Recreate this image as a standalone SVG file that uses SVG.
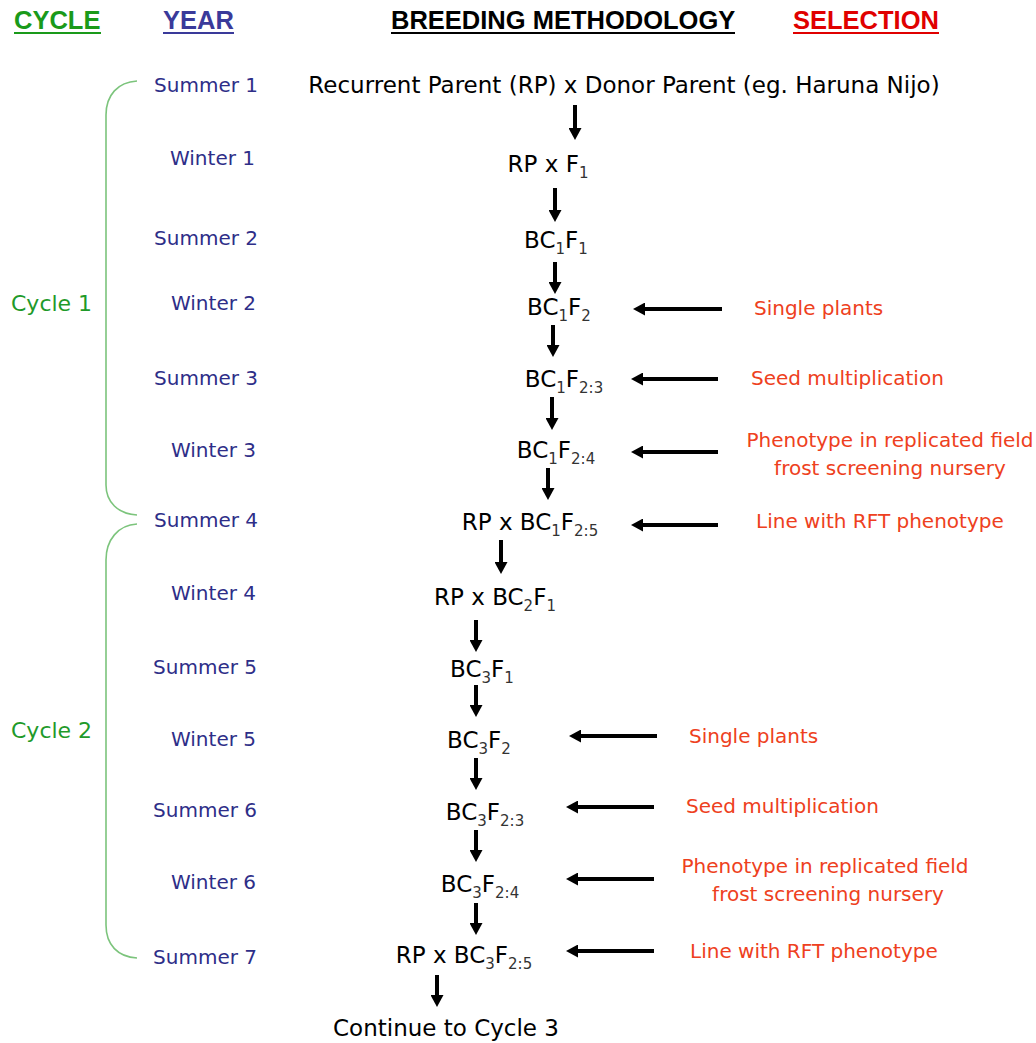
<svg xmlns="http://www.w3.org/2000/svg" width="1036" height="1043" viewBox="0 0 1036 1043">
<style>
.hdr{font-family:"Liberation Sans",Arial,sans-serif;font-weight:bold;font-size:25.5px}
.yr{font-family:"DejaVu Sans","Noto Sans",sans-serif;font-size:20px;fill:#2e2e88;text-anchor:end}
.cyc{font-family:"DejaVu Sans","Noto Sans",sans-serif;font-size:22px;fill:#1f9a2a}
.m{font-family:"DejaVu Sans","Noto Sans",sans-serif;font-size:23px;fill:#000;text-anchor:middle}
.sub{font-size:15px;fill:#333}
.sel{font-family:"DejaVu Sans","Noto Sans",sans-serif;font-size:20px;fill:#ee4020}
.brace{fill:none;stroke:#7cc47c;stroke-width:1.6}
.ar{stroke:#000;stroke-width:4;fill:none;marker-end:url(#ah)}
</style>
<defs>
<marker id="ah" markerUnits="userSpaceOnUse" viewBox="0 0 12 13" markerWidth="12" markerHeight="13" refX="2" refY="6.5" orient="auto">
<path d="M0,0 L12,6.5 L0,13 z" fill="#000"/>
</marker>
</defs>
<rect width="1036" height="1043" fill="#fff"/>
<g id="headers">
<text class="hdr" x="14" y="29" fill="#1a9a1a">CYCLE</text>
<rect x="14" y="32" width="87" height="2" fill="#1a9a1a"/>
<text class="hdr" x="163" y="29" fill="#3a3a9a">YEAR</text>
<rect x="163" y="32" width="71" height="2" fill="#3a3a9a"/>
<text class="hdr" x="391" y="29" fill="#000">BREEDING METHODOLOGY</text>
<rect x="391" y="32" width="344" height="2" fill="#000"/>
<text class="hdr" x="793" y="29" fill="#e00000">SELECTION</text>
<rect x="793" y="32" width="146" height="2" fill="#e00000"/>
</g>
<g id="cycles">
<path class="brace" d="M137,81 C118,82 106,95 106,115 L106,485 C106,502 118,514 137,515"/>
<text class="cyc" x="11" y="311">Cycle 1</text>
<path class="brace" d="M137,524 C118,525 106,540 106,560 L106,925 C106,945 118,957 137,958"/>
<text class="cyc" x="11" y="738">Cycle 2</text>
</g>
<g id="years">
<text class="yr" x="258" y="92">Summer 1</text>
<text class="yr" x="255" y="165">Winter 1</text>
<text class="yr" x="258" y="245">Summer 2</text>
<text class="yr" x="256" y="310">Winter 2</text>
<text class="yr" x="258" y="385">Summer 3</text>
<text class="yr" x="256" y="457">Winter 3</text>
<text class="yr" x="258" y="527">Summer 4</text>
<text class="yr" x="256" y="600">Winter 4</text>
<text class="yr" x="257" y="674">Summer 5</text>
<text class="yr" x="256" y="746">Winter 5</text>
<text class="yr" x="257" y="817">Summer 6</text>
<text class="yr" x="256" y="889">Winter 6</text>
<text class="yr" x="257" y="964">Summer 7</text>
</g>
<g id="n0"><text class="m" x="624" y="93">Recurrent Parent (RP) x Donor Parent (eg. Haruna Nijo)</text></g>
<g id="n1"><text class="m" x="548" y="172">RP x F<tspan class="sub" dy="6">1</tspan></text></g>
<g id="n2"><text class="m" x="556" y="248">BC<tspan class="sub" dy="6">1</tspan><tspan dy="-6">F</tspan><tspan class="sub" dy="6">1</tspan></text></g>
<g id="n3"><text class="m" x="559" y="315">BC<tspan class="sub" dy="6">1</tspan><tspan dy="-6">F</tspan><tspan class="sub" dy="6">2</tspan></text></g>
<g id="n4"><text class="m" x="564" y="387">BC<tspan class="sub" dy="6">1</tspan><tspan dy="-6">F</tspan><tspan class="sub" dy="6">2:3</tspan></text></g>
<g id="n5"><text class="m" x="556" y="458">BC<tspan class="sub" dy="6">1</tspan><tspan dy="-6">F</tspan><tspan class="sub" dy="6">2:4</tspan></text></g>
<g id="n6"><text class="m" x="530" y="530">RP x BC<tspan class="sub" dy="6">1</tspan><tspan dy="-6">F</tspan><tspan class="sub" dy="6">2:5</tspan></text></g>
<g id="n7"><text class="m" x="495" y="605">RP x BC<tspan class="sub" dy="6">2</tspan><tspan dy="-6">F</tspan><tspan class="sub" dy="6">1</tspan></text></g>
<g id="n8"><text class="m" x="482" y="677">BC<tspan class="sub" dy="6">3</tspan><tspan dy="-6">F</tspan><tspan class="sub" dy="6">1</tspan></text></g>
<g id="n9"><text class="m" x="479" y="748">BC<tspan class="sub" dy="6">3</tspan><tspan dy="-6">F</tspan><tspan class="sub" dy="6">2</tspan></text></g>
<g id="n10"><text class="m" x="485" y="820">BC<tspan class="sub" dy="6">3</tspan><tspan dy="-6">F</tspan><tspan class="sub" dy="6">2:3</tspan></text></g>
<g id="n11"><text class="m" x="480" y="892">BC<tspan class="sub" dy="6">3</tspan><tspan dy="-6">F</tspan><tspan class="sub" dy="6">2:4</tspan></text></g>
<g id="n12"><text class="m" x="464" y="963">RP x BC<tspan class="sub" dy="6">3</tspan><tspan dy="-6">F</tspan><tspan class="sub" dy="6">2:5</tspan></text></g>
<g id="n13"><text class="m" x="446" y="1036">Continue to Cycle 3</text></g>
<g id="selection">
<text class="sel" x="754" y="315">Single plants</text>
<text class="sel" x="751" y="385">Seed multiplication</text>
<text class="sel" x="890" y="447" text-anchor="middle">Phenotype in replicated field</text>
<text class="sel" x="890" y="475" text-anchor="middle">frost screening nursery</text>
<text class="sel" x="756" y="528">Line with RFT phenotype</text>
<text class="sel" x="689" y="743">Single plants</text>
<text class="sel" x="686" y="813">Seed multiplication</text>
<text class="sel" x="825" y="873" text-anchor="middle">Phenotype in replicated field</text>
<text class="sel" x="828" y="901" text-anchor="middle">frost screening nursery</text>
<text class="sel" x="690" y="958">Line with RFT phenotype</text>
</g>
<g id="connectors">
<line class="ar" x1="575" y1="105" x2="575" y2="130"/>
<line class="ar" x1="555" y1="188" x2="555" y2="212"/>
<line class="ar" x1="555" y1="262" x2="555" y2="284"/>
<line class="ar" x1="553" y1="325" x2="553" y2="347"/>
<line class="ar" x1="552" y1="397" x2="552" y2="420"/>
<line class="ar" x1="548" y1="468" x2="548" y2="490"/>
<line class="ar" x1="501" y1="540" x2="501" y2="564"/>
<line class="ar" x1="476" y1="620" x2="476" y2="642"/>
<line class="ar" x1="476" y1="685" x2="476" y2="707"/>
<line class="ar" x1="476" y1="758" x2="476" y2="780"/>
<line class="ar" x1="476" y1="830" x2="476" y2="852"/>
<line class="ar" x1="476" y1="903" x2="476" y2="925"/>
<line class="ar" x1="437" y1="975" x2="437" y2="997"/>
<line class="ar" x1="722" y1="309" x2="643" y2="309"/>
<line class="ar" x1="718" y1="379" x2="641" y2="379"/>
<line class="ar" x1="718" y1="452" x2="641" y2="452"/>
<line class="ar" x1="718" y1="525" x2="641" y2="525"/>
<line class="ar" x1="657" y1="736" x2="579" y2="736"/>
<line class="ar" x1="654" y1="807" x2="576" y2="807"/>
<line class="ar" x1="654" y1="879" x2="576" y2="879"/>
<line class="ar" x1="654" y1="951" x2="576" y2="951"/>
</g>
</svg>
